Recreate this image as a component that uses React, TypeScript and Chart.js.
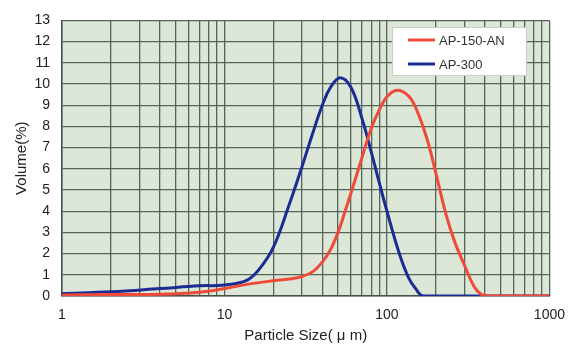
import React, { useEffect, useRef } from "react";
import { Chart, registerables } from "chart.js";

Chart.register(...registerables);

const seriesNames = ["AP-150-AN", "AP-300"];
const seriesColors = ["#f04a3a", "#1c2c94"];

// AP-150-AN (red)
const redSizes = [1, 2, 4, 7, 10, 14, 20, 25, 30, 35, 40, 45, 50, 55, 60, 70, 80, 90, 100, 116, 135, 150, 175, 200, 230, 260, 300, 345, 380, 410, 1000];
const redValues = [0.05, 0.07, 0.08, 0.18, 0.35, 0.56, 0.72, 0.8, 0.92, 1.15, 1.6, 2.2, 3.0, 3.95, 4.85, 6.5, 7.9, 8.8, 9.4, 9.7, 9.45, 8.9, 7.5, 5.8, 3.9, 2.6, 1.45, 0.42, 0.08, 0, 0];

// AP-300 (blue)
const blueSizes = [1, 2, 4, 7, 10, 13.8, 16.7, 20, 25, 30, 35, 40, 45, 51.5, 60, 70, 80, 90, 100, 118, 136, 150, 168, 1000];
const blueValues = [0.12, 0.2, 0.35, 0.48, 0.52, 0.75, 1.35, 2.3, 4.3, 6.1, 7.7, 9.0, 9.85, 10.3, 9.85, 8.4, 6.8, 5.3, 4.0, 2.1, 0.85, 0.35, 0, 0];

const xGridValues = [1, 2, 3, 4, 5, 6, 7, 8, 9, 10, 20, 30, 40, 50, 60, 70, 80, 90, 100, 200, 300, 400, 500, 600, 700, 800, 900, 1000];
const xTickLabels = [1, 10, 100, 1000];
const yMin = 0;
const yMax = 13;

const xTitle = "Particle Size( μ m)";
const yTitle = "Volume(%)";

const FONT = "'Liberation Sans', Arial, Helvetica, sans-serif";

export default function App() {
  const ref = useRef<HTMLCanvasElement | null>(null);

  useEffect(() => {
    document.body.style.margin = "0";
    const canvas = ref.current;
    if (!canvas) return;

    const bgPlugin = {
      id: "plotBg",
      beforeDraw(chart: any) {
        const { ctx, chartArea } = chart;
        ctx.save();
        ctx.fillStyle = "#ffffff";
        ctx.fillRect(0, 0, chart.width, chart.height);
        ctx.fillStyle = "#dce7d8";
        ctx.fillRect(chartArea.left, chartArea.top, chartArea.right - chartArea.left, chartArea.bottom - chartArea.top);
        ctx.restore();
      },
    };

    const legendPlugin = {
      id: "innerLegend",
      afterDatasetsDraw(chart: any) {
        const { ctx } = chart;
        const x0 = 392, y0 = 27, w = 135, h = 49;
        ctx.save();
        ctx.fillStyle = "#ffffff";
        ctx.fillRect(x0, y0, w, h);
        ctx.strokeStyle = "#c8cec6";
        ctx.lineWidth = 1;
        ctx.strokeRect(x0 + 0.5, y0 + 0.5, w - 1, h - 1);
        chart.data.datasets.forEach((ds: any, i: number) => {
          const y = y0 + 13 + i * 24;
          ctx.strokeStyle = ds.borderColor;
          ctx.lineWidth = 3;
          ctx.beginPath();
          ctx.moveTo(408, y);
          ctx.lineTo(435, y);
          ctx.stroke();
          ctx.fillStyle = "#333333";
          ctx.font = `13px ${FONT}`;
          ctx.textBaseline = "middle";
          ctx.textAlign = "left";
          ctx.fillText(ds.label, 439, y + 1);
        });
        ctx.restore();
      },
    };

    const chart = new Chart(canvas, {
      type: "line",
      data: {
        datasets: [
          {
            label: seriesNames[0],
            data: redSizes.map((s, i) => ({ x: s, y: redValues[i] })),
            borderColor: seriesColors[0],
            borderWidth: 3,
            pointRadius: 0,
            tension: 0.4,
            cubicInterpolationMode: "default",
            fill: false,
          },
          {
            label: seriesNames[1],
            data: blueSizes.map((s, i) => ({ x: s, y: blueValues[i] })),
            borderColor: seriesColors[1],
            borderWidth: 3,
            pointRadius: 0,
            tension: 0.4,
            cubicInterpolationMode: "default",
            fill: false,
          },
        ],
      },
      options: {
        responsive: false,
        animation: false,
        devicePixelRatio: 1,
        layout: { padding: { top: 10, right: 20, bottom: 0, left: 0 } },
        plugins: {
          legend: { display: false },
          tooltip: { enabled: false },
        },
        scales: {
          x: {
            type: "logarithmic",
            min: 1,
            max: 1000,
            afterBuildTicks(scale: any) {
              scale.ticks = xGridValues.map((v) => ({ value: v, major: xTickLabels.includes(v) }));
            },
            afterFit(scale: any) {
              scale.height = 55;
            },
            ticks: {
              autoSkip: false,
              maxRotation: 0,
              padding: 11,
              color: "#222222",
              font: { family: FONT, size: 14 },
              callback(value: any) {
                const v = Number(value);
                return xTickLabels.includes(v) ? String(v) : "";
              },
            },
            grid: { color: "#56655a", lineWidth: 1.3, drawTicks: false },
            border: { color: "#45524a", width: 1.5 },
            title: {
              display: true,
              text: xTitle,
              color: "#222222",
              font: { family: FONT, size: 15 },
              padding: { top: 0, bottom: 6 },
            },
          },
          y: {
            type: "linear",
            min: yMin,
            max: yMax,
            afterFit(scale: any) {
              scale.width = 62;
            },
            ticks: {
              stepSize: 1,
              padding: 12,
              color: "#222222",
              font: { family: FONT, size: 14 },
            },
            grid: { color: "#56655a", lineWidth: 1.3, drawTicks: false },
            border: { color: "#45524a", width: 1.5 },
            title: {
              display: true,
              text: yTitle,
              color: "#222222",
              font: { family: FONT, size: 15 },
              padding: { top: 13, bottom: 0 },
            },
          },
        },
      } as any,
      plugins: [bgPlugin, legendPlugin],
    });

    return () => chart.destroy();
  }, []);

  return (
    <div style={{ width: 576, height: 351 }}>
      <canvas ref={ref} width={576} height={351} style={{ display: "block", width: 576, height: 351 }} />
    </div>
  );
}
